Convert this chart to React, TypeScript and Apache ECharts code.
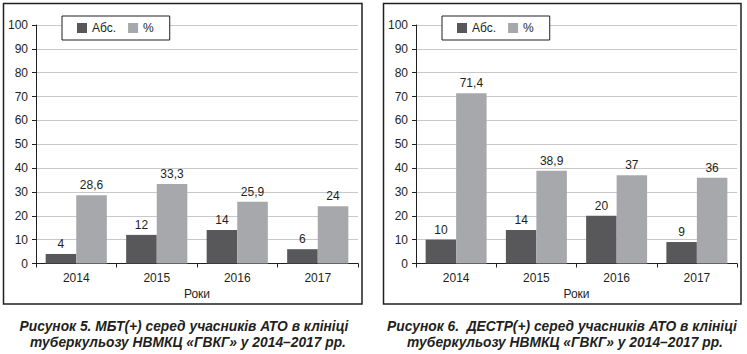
import React, { useEffect, useRef } from "react";
import * as echarts from "echarts";

const years = ["2014", "2015", "2016", "2017"];
const seriesNames = ["Абс.", "%"];
const chart1Abs = [4, 12, 14, 6];
const chart1Pct = [28.6, 33.3, 25.9, 24];
const chart2Abs = [10, 14, 20, 9];
const chart2Pct = [71.4, 38.9, 37, 36];
const axisName = "Роки";
const caption1 = [
  "Рисунок 5. МБТ(+) серед учасників АТО в клініці",
  "туберкульозу НВМКЦ «ГВКГ» у 2014–2017 рр.",
];
const caption2 = [
  "Рисунок 6.  ДЕСТР(+) серед учасників АТО в клініці",
  "туберкульозу НВМКЦ «ГВКГ» у 2014–2017 рр.",
];

const DARK = "#58585a";
const LIGHT = "#a7a8ab";
const FONT = "'Liberation Sans', Arial, sans-serif";
const CAP_FONT = "'Liberation Sans', Arial, sans-serif";

export default function App() {
  const ref = useRef<HTMLDivElement>(null);
  useEffect(() => {
    if (!ref.current) return;
    const chart = echarts.init(ref.current, undefined, { renderer: "svg" });
    const fmt = (p: any) => String(p.value).replace(".", ",");
    const label = {
      show: true,
      position: "top",
      distance: 4,
      color: "#231f20",
      fontSize: 12,
      fontFamily: FONT,
      formatter: fmt,
    };
    const xAxisBase = (gi: number) => ({
      type: "category",
      gridIndex: gi,
      data: years,
      name: axisName,
      nameLocation: "middle",
      nameGap: 24,
      nameTextStyle: { color: "#231f20", fontSize: 12, fontFamily: FONT },
      axisLine: { lineStyle: { color: "#231f20", width: 1 } },
      axisTick: { show: true, length: 4, lineStyle: { color: "#231f20" } },
      axisLabel: { color: "#231f20", fontSize: 12, fontFamily: FONT, margin: 8 },
    });
    const yAxisBase = (gi: number) => ({
      type: "value",
      gridIndex: gi,
      min: 0,
      max: 100,
      interval: 10,
      axisLine: { show: true, lineStyle: { color: "#231f20", width: 1 } },
      axisTick: { show: true, length: 4, lineStyle: { color: "#231f20" } },
      axisLabel: { color: "#231f20", fontSize: 12, fontFamily: FONT, margin: 8 },
      splitLine: { show: true, lineStyle: { color: "#c8c8ca", width: 1 } },
    });
    const legendBase = (left: number) => ({
      data: seriesNames,
      left,
      top: 16,
      orient: "horizontal",
      icon: "rect",
      itemWidth: 10,
      itemHeight: 10,
      itemGap: 12,
      padding: [6, 16, 6, 15],
      borderColor: "#231f20",
      borderWidth: 1,
      backgroundColor: "#ffffff",
      textStyle: { color: "#231f20", fontSize: 12, fontFamily: FONT },
      selectedMode: false,
    });
    const bar = (name: string, data: number[], color: string, idx: number) => ({
      type: "bar",
      name,
      data,
      xAxisIndex: idx,
      yAxisIndex: idx,
      barGap: "0%",
      barCategoryGap: "24%",
      itemStyle: { color },
      label,
    });
    const capText = (x: number, y: number, text: string) => ({
      type: "text",
      x,
      y,
      scaleX: 0.92,
      style: {
        text,
        fill: "#231f20",
        font: `italic bold 15px ${CAP_FONT}`,
        textAlign: "center",
        textVerticalAlign: "middle",
      },
    });
    chart.setOption({
      animation: false,
      textStyle: { fontFamily: FONT },
      grid: [
        { left: 36, right: 389, top: 25, height: 238.5 },
        { left: 416, right: 10, top: 25, height: 238.5 },
      ],
      xAxis: [xAxisBase(0), xAxisBase(1)],
      yAxis: [yAxisBase(0), yAxisBase(1)],
      legend: [legendBase(62), legendBase(442)],
      series: [
        bar(seriesNames[0], chart1Abs, DARK, 0),
        bar(seriesNames[1], chart1Pct, LIGHT, 0),
        bar(seriesNames[0], chart2Abs, DARK, 1),
        bar(seriesNames[1], chart2Pct, LIGHT, 1),
      ],
      graphic: [
        {
          type: "rect",
          shape: { x: 3.5, y: 3.5, width: 358.5, height: 300.5 },
          style: { fill: "none", stroke: "#231f20", lineWidth: 1.5 },
          z: 100,
        },
        {
          type: "rect",
          shape: { x: 383.5, y: 3.5, width: 357.5, height: 300.5 },
          style: { fill: "none", stroke: "#231f20", lineWidth: 1.5 },
          z: 100,
        },
        capText(184, 326, caption1[0]),
        capText(188, 342, caption1[1]),
        capText(562, 326, caption2[0]),
        capText(565, 342, caption2[1]),
      ],
    });
    return () => chart.dispose();
  }, []);
  return (
    <div
      ref={ref}
      style={{ position: "fixed", left: 0, top: 0, width: 747, height: 354, background: "#fff" }}
    />
  );
}
